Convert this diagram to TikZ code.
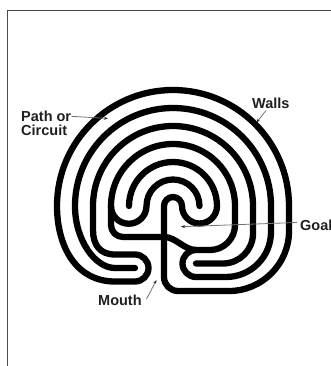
\documentclass[tikz,border=0pt]{standalone}
\usepackage{fontspec}
\setmainfont{Liberation Sans}
\usetikzlibrary{arrows.meta}
\begin{document}
\begin{tikzpicture}[x=1pt,y=1pt,
  wall/.style={line width=6.3pt, line cap=round, line join=round, draw=black},
  leader/.style={line width=0.8pt, draw=black!55, -{Stealth[length=4pt,width=3pt,color=black!85]}},
  lbl/.style={font=\fontsize{14.5}{14.5}\selectfont\bfseries, text=black!88, inner sep=0pt, anchor=base west}]
\useasboundingbox (0,0) rectangle (331,-366);
% frame
\draw[black!70, line width=1.2pt] (7.5,-366) -- (7.5,-10.5) -- (331,-10.5);
% main wall
\draw[wall] (129,-206) arc[start angle=180,end angle=0,radius=44]
  arc[start angle=0,end angle=-180,radius=17.5]
  arc[start angle=0,end angle=180,radius=9]
  -- (164,-277) arc[start angle=180,end angle=270,radius=14]
  -- (229,-291) .. controls (262,-291) and (289,-264) .. (289,-231) -- (289,-206)
  arc[start angle=0,end angle=180,radius=116]
  .. controls (57,-245) and (75,-281.5) .. (115,-281.5) -- (135,-281.5)
  arc[start angle=-90,end angle=90,radius=13.5]
  -- (115,-254.5) .. controls (100,-254.5) and (93,-245) .. (93,-230) -- (93,-206)
  arc[start angle=180,end angle=0,radius=80]
  -- (253,-233.5) .. controls (253,-250) and (239.5,-263.5) .. (223,-263.5) -- (196,-263.5);
% second wall
\draw[wall] (199.5,-206) arc[start angle=0,end angle=180,radius=26.5]
  arc[start angle=0,end angle=-180,radius=17.75]
  arc[start angle=180,end angle=0,radius=62]
  -- (235,-225) .. controls (235,-238.8) and (223.8,-250) .. (210,-250) -- (196,-250)
  arc[start angle=90,end angle=270,radius=13.5]
  -- (226,-277) .. controls (250.9,-277) and (271,-256.9) .. (271,-232) -- (271,-206)
  arc[start angle=0,end angle=180,radius=98]
  .. controls (75,-240) and (95,-268) .. (115,-268) -- (135,-268);
% arms of the cross
\draw[wall] (111,-206) -- (111,-225) arc[start angle=180,end angle=270,radius=12] -- (164,-237);
\draw[wall] (164,-237) .. controls (176,-237) and (184,-250) .. (196,-250);
% labels
\node[lbl] (pathA) at (21,-121.5) {Path or};
\node[lbl] (pathB) at (21,-135.5) {Circuit};
\node[lbl] (walls) at (252,-108.5) {Walls};
\node[lbl] (goal) at (300,-230) {Goal};
\node[lbl] (mouth) at (98,-305.5) {Mouth};
% leader ends
\coordinate (pathT) at (108,-118.5);
\coordinate (wallsS) at (266,-110.5);
\coordinate (wallsT) at (256.5,-122.5);
\coordinate (goalS) at (297,-222.5);
\coordinate (goalT) at (181,-226.7);
\coordinate (mouthS) at (146.5,-299);
\coordinate (mouthT) at (156.5,-280);
\draw[leader] (pathA.east) -- (pathT);
\draw[leader] (wallsS) -- (wallsT);
\draw[leader] (goalS) -- (goalT);
\draw[leader] (mouthS) -- (mouthT);
\end{tikzpicture}
\end{document}
